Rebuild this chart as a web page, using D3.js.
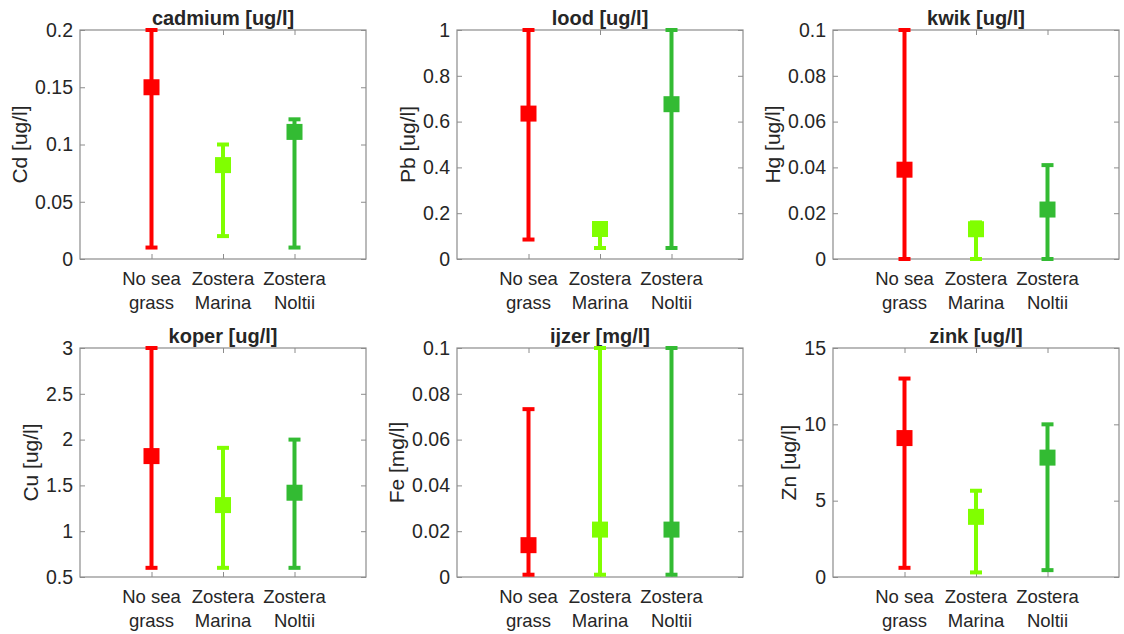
<!DOCTYPE html>
<html>
<head>
<meta charset="utf-8">
<script src="https://cdn.jsdelivr.net/npm/d3@7"></script>
<style>
  body { margin: 0; background: #fff; }
  text { font-family: "Liberation Sans", Arial, sans-serif; fill: #262626; }
</style>
</head>
<body>
<div id="chart"></div>
<script>
// groups on the x axis (two-line labels)
var categories = ["No sea grass", "Zostera Marina", "Zostera Noltii"];
var catLines = [["No sea", "grass"], ["Zostera", "Marina"], ["Zostera", "Noltii"]];
var catColors = ["#ff0000", "#80ff00", "#33bb33"];

var titles = ["cadmium [ug/l]", "lood [ug/l]", "kwik [ug/l]", "koper [ug/l]", "ijzer [mg/l]", "zink [ug/l]"];
var yLabels = ["Cd [ug/l]", "Pb [ug/l]", "Hg [ug/l]", "Cu [ug/l]", "Fe [mg/l]", "Zn [ug/l]"];
var yDomains = [[0, 0.2], [0, 1], [0, 0.1], [0.5, 3], [0, 0.1], [0, 15]];
var yTicks = [
  [0, 0.05, 0.1, 0.15, 0.2],
  [0, 0.2, 0.4, 0.6, 0.8, 1],
  [0, 0.02, 0.04, 0.06, 0.08, 0.1],
  [0.5, 1, 1.5, 2, 2.5, 3],
  [0, 0.02, 0.04, 0.06, 0.08, 0.1],
  [0, 5, 10, 15]
];

// per panel: values for No sea grass, Zostera Marina, Zostera Noltii
var means = [
  [0.15, 0.082, 0.111],
  [0.635, 0.131, 0.676],
  [0.039, 0.013, 0.0216],
  [1.82, 1.285, 1.42],
  [0.0139, 0.0207, 0.0207],
  [9.1, 3.94, 7.82]
];
var lowers = [
  [0.01, 0.02, 0.01],
  [0.085, 0.048, 0.048],
  [0, 0, 0],
  [0.6, 0.6, 0.6],
  [0.001, 0.001, 0.001],
  [0.6, 0.3, 0.45]
];
var uppers = [
  [0.2, 0.1, 0.122],
  [1, 0.15, 1],
  [0.1, 0.016, 0.041],
  [3, 1.91, 2.0],
  [0.0733, 0.1, 0.1],
  [13, 5.65, 10]
];

var W = 1124, H = 634;
var colLeft = [80, 457, 833];
var rowTop = [30, 348];
var pw = 286, ph = 229;

var svg = d3.select("#chart").append("svg")
  .attr("width", W)
  .attr("height", H);

titles.forEach(function(title, p) {
  var left = colLeft[p % 3], top = rowTop[Math.floor(p / 3)];
  var g = svg.append("g").attr("transform", "translate(" + left + "," + top + ")");

  var x = d3.scaleLinear().domain([0, 4]).range([0, pw]);
  var y = d3.scaleLinear().domain(yDomains[p]).range([ph, 0]);

  // box
  g.append("rect")
    .attr("width", pw).attr("height", ph)
    .attr("fill", "#fff").attr("stroke", "#8c8c8c").attr("stroke-width", 1.2);

  var yAxis = d3.axisLeft(y).tickValues(yTicks[p]).tickSize(-5).tickPadding(7)
    .tickFormat(function(d) { return String(+d.toFixed(4)); });
  var ya = g.append("g").call(yAxis);
  g.append("g").attr("transform", "translate(" + pw + ",0)")
    .call(d3.axisRight(y).tickValues(yTicks[p]).tickSize(-5).tickFormat(""));

  var xAxis = d3.axisBottom(x).tickValues([1, 2, 3]).tickSize(-5).tickFormat("");
  g.append("g").attr("transform", "translate(0," + ph + ")").call(xAxis);
  g.append("g").call(d3.axisTop(x).tickValues([1, 2, 3]).tickSize(-5).tickFormat(""));

  g.selectAll(".domain").remove();
  g.selectAll(".tick line").attr("stroke", "#8c8c8c");
  ya.selectAll(".tick text").style("font-size", "19.5px").attr("fill", "#262626");

  var maxW = 0;
  ya.selectAll(".tick text").each(function() { maxW = Math.max(maxW, this.getBBox().width); });

  // y label
  g.append("text")
    .attr("transform", "translate(" + (-7 - maxW - 8) + "," + (ph / 2) + ") rotate(-90)")
    .attr("text-anchor", "middle")
    .style("font-size", "21px")
    .text(yLabels[p]);

  // title
  g.append("text")
    .attr("x", pw / 2).attr("y", -5)
    .attr("text-anchor", "middle")
    .style("font-size", "20px").style("font-weight", "bold")
    .attr("fill", "#000")
    .text(title);

  // category labels
  catLines.forEach(function(lines, i) {
    lines.forEach(function(line, k) {
      g.append("text")
        .attr("x", x(i + 1)).attr("y", ph + 26 + k * 24)
        .attr("text-anchor", "middle")
        .style("font-size", "18.5px")
        .text(line);
    });
  });

  // error bars
  var rows = categories.map(function(c, i) {
    return { cat: c, i: i, m: means[p][i], lo: lowers[p][i], hi: uppers[p][i] };
  });
  var bars = g.selectAll(".bar").data(rows).enter().append("g");
  bars.append("line")
    .attr("x1", function(d) { return x(d.i + 1); })
    .attr("x2", function(d) { return x(d.i + 1); })
    .attr("y1", function(d) { return y(d.lo); })
    .attr("y2", function(d) { return y(d.hi); })
    .attr("stroke", function(d) { return catColors[d.i]; })
    .attr("stroke-width", 4);
  ["lo", "hi"].forEach(function(k) {
    bars.append("line")
      .attr("x1", function(d) { return x(d.i + 1) - 6; })
      .attr("x2", function(d) { return x(d.i + 1) + 6; })
      .attr("y1", function(d) { return y(d[k]); })
      .attr("y2", function(d) { return y(d[k]); })
      .attr("stroke", function(d) { return catColors[d.i]; })
      .attr("stroke-width", 4);
  });
  bars.append("rect")
    .attr("x", function(d) { return x(d.i + 1) - 8; })
    .attr("y", function(d) { return y(d.m) - 8; })
    .attr("width", 16).attr("height", 16)
    .attr("fill", function(d) { return catColors[d.i]; });
});
</script>
</body>
</html>
